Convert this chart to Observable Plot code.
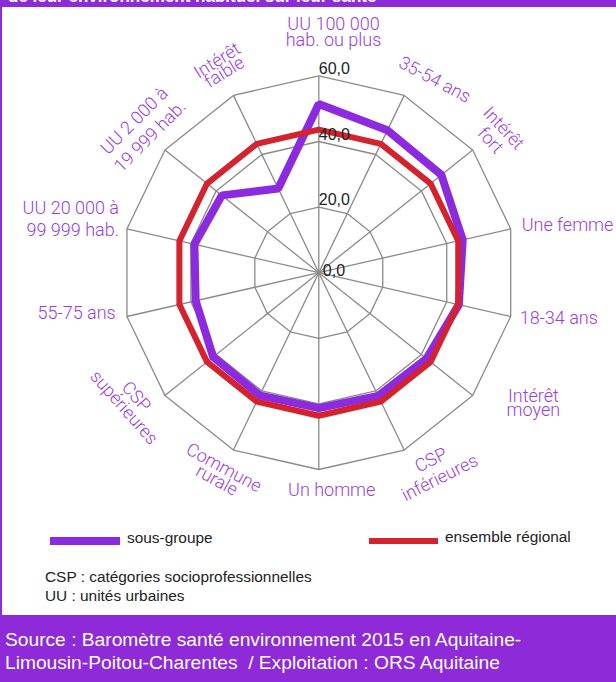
<!DOCTYPE html>
<html><head><meta charset="utf-8">
<script src="https://cdn.jsdelivr.net/npm/d3@7"></script>
<script src="https://cdn.jsdelivr.net/npm/@observablehq/plot@0.6"></script>
<style>
html,body{margin:0;padding:0;background:#fff;}
#page{position:relative;width:616px;height:682px;overflow:hidden;background:#fff;font-family:"Liberation Sans",Arial,sans-serif;}
#topband{position:absolute;left:0;top:0;width:616px;height:7px;background:#8e2ad8;overflow:hidden;z-index:3}
#topband span{position:absolute;left:8px;top:-13px;font:bold 17px/20px "Liberation Sans",Arial,sans-serif;color:#fff;white-space:nowrap}
#leftborder{position:absolute;left:0;top:0;width:2px;height:615px;background:#8e2ad8;z-index:3}
#chart{position:absolute;left:0;top:0}
.lg{position:absolute;font-size:15.4px;color:#222;white-space:nowrap;line-height:18px}
.bar{position:absolute}
#footer{position:absolute;left:0;top:615px;width:616px;height:67px;background:#8e2ad8;color:#fff;font-size:19.2px;line-height:23px;box-sizing:border-box;padding:13px 0 0 5px;white-space:nowrap}
</style>
</head><body>
<div id="page">
  <div id="topband"><span>de leur environnement habituel sur leur santé</span></div>
  <div id="leftborder"></div>
  <div id="chart"></div>
  <div id="legend"></div>
  <div class="lg" style="left:45px;top:568px">CSP : catégories socioprofessionnelles</div>
  <div class="lg" style="left:45px;top:587px">UU : unités urbaines</div>
  <div id="footer">Source : Baromètre santé environnement 2015 en Aquitaine-<br>Limousin-Poitou-Charentes&nbsp; / Exploitation : ORS Aquitaine</div>
</div>
<script>
// ---- data ----
const categories = [
  "UU 100 000\nhab. ou plus", "35-54 ans", "Intérêt\nfort", "Une femme", "18-34 ans",
  "Intérêt\nmoyen", "CSP\ninférieures", "Un homme", "Commune\nrurale", "CSP\nsupérieures",
  "55-75 ans", "UU 20 000 à\n99 999 hab.", "UU 2 000 à\n19 999 hab.", "Intérêt\nfaible"
];
const sousGroupe = [51.4, 48.2, 47.8, 45.0, 43.8, 42.0, 41.7, 41.3, 41.5, 41.2, 38.5, 38.9, 37.8, 28.5];
const ensembleRegional = [43.6, 43.6, 43.6, 43.6, 43.6, 43.6, 43.6, 43.6, 43.6, 43.6, 43.6, 43.6, 43.6, 43.6];
const tickValues = [0, 20, 40, 60];
const tickLabels = ["0,0", "20,0", "40,0", "60,0"];
const seriesNames = ["sous-groupe", "ensemble régional"];

// ---- layout / style ----
const purple = "#8c2ae0", red = "#d4222e", labelColor = "#9a3de0", gridColor = "#8a8a8a";
const W = 616, H = 520, cx = 318.3, cy = 272.2, k = 3.28;
const labelLayout = [
  {dx: 14.7, dy: -43.2, rotate: 0, anchor: "middle", lh: 0.9},
  {dx: 30.5, dy: -15.6, rotate: 28, anchor: "middle", lh: 1},
  {dx: 24.2, dy: -15.6, rotate: 47, anchor: "middle", lh: 1.0},
  {dx: 11, dy: -3.8, rotate: 0, anchor: "start", lh: 1},
  {dx: 9, dy: 2.1, rotate: 0, anchor: "start", lh: 1},
  {dx: 60.7, dy: 9, rotate: 0, anchor: "middle", lh: 0.76},
  {dx: 31, dy: 18.4, rotate: -26.6, anchor: "middle", lh: 1.1},
  {dx: 12.9, dy: 20.9, rotate: 0, anchor: "middle", lh: 1},
  {dx: -13.6, dy: 25.1, rotate: 28.6, anchor: "middle", lh: 0.8},
  {dx: -35.3, dy: 7.1, rotate: 48.5, anchor: "middle", lh: 0.9},
  {dx: -11.2, dy: -2.9, rotate: 0, anchor: "end", lh: 1},
  {dx: -7.9, dy: -10.8, rotate: 0, anchor: "end", lh: 1.22},
  {dx: -23.6, dy: -22.3, rotate: -45, anchor: "middle", lh: 1.23},
  {dx: -11.9, dy: -27.8, rotate: -32, anchor: "middle", lh: 0.76}
];

const n = categories.length;
const rMax = tickValues[tickValues.length - 1];
const ang = i => 2 * Math.PI * i / n;
const px = (r, i) => r * Math.sin(ang(i));
const py = (r, i) => r * Math.cos(ang(i));
const rows = values => values.map((v, i) => ({i, v}));

const gridRows = tickValues.slice(1).flatMap(g => categories.map((c, i) => ({g, i})));
const spokes = categories.map((c, i) => i);
const tickRows = tickValues.map((v, j) => ({v, label: tickLabels[j]}));

const labelMarks = categories.map((c, i) => {
  const L = labelLayout[i];
  return Plot.text([i], {
    x: d => px(rMax, d), y: d => py(rMax, d), text: () => c,
    dx: L.dx, dy: L.dy, rotate: L.rotate, textAnchor: L.anchor,
    lineAnchor: "middle", lineHeight: L.lh, fill: labelColor,
    fontSize: 18, fontWeight: 300, fontFamily: "Roboto, 'Liberation Sans', sans-serif"
  });
});

const chart = Plot.plot({
  width: W, height: H, margin: 0,
  style: {background: "transparent", overflow: "visible"},
  x: {domain: [-cx / k, (W - cx) / k], range: [0, W], axis: null},
  y: {domain: [-(H - cy) / k, cy / k], range: [H, 0], axis: null},
  marks: [
    Plot.link(spokes, {x1: 0, y1: 0, x2: d => px(rMax, d), y2: d => py(rMax, d), stroke: gridColor, strokeWidth: 1.3}),
    Plot.line(gridRows, {x: d => px(d.g, d.i), y: d => py(d.g, d.i), z: "g", curve: "linear-closed", stroke: gridColor, strokeWidth: 1.3}),
    Plot.line(rows(sousGroupe), {x: d => px(d.v, d.i), y: d => py(d.v, d.i), curve: "linear-closed", stroke: purple, strokeWidth: 8, strokeLinejoin: "miter"}),
    Plot.line(rows(ensembleRegional), {x: d => px(d.v, d.i), y: d => py(d.v, d.i), curve: "linear-closed", stroke: red, strokeWidth: 6, strokeLinejoin: "miter"}),
    Plot.text(tickRows.filter(d => d.v > 0), {x: 0, y: "v", text: "label", dx: 0, dy: -7, textAnchor: "start", fill: "#222", fontSize: 16, fontFamily: "'Liberation Sans', Arial, sans-serif"}),
    Plot.text(tickRows.filter(d => d.v === 0), {x: 0, y: "v", text: "label", dx: 4, dy: -2, textAnchor: "start", fill: "#222", fontSize: 16, fontFamily: "'Liberation Sans', Arial, sans-serif"}),
    ...labelMarks
  ]
});
document.getElementById("chart").appendChild(chart);

// legend (below the SVG)
const legend = document.getElementById("legend");
const legendItems = [
  {name: seriesNames[0], color: purple, left: 50, width: 70, thick: 8, textLeft: 127, top: 529},
  {name: seriesNames[1], color: red, left: 369, width: 69, thick: 5.5, textLeft: 445, top: 528}
];
legendItems.forEach(it => {
  const b = document.createElement("div");
  b.className = "bar";
  b.style.cssText = `left:${it.left}px;top:${541 - it.thick / 2}px;width:${it.width}px;height:${it.thick}px;background:${it.color}`;
  legend.appendChild(b);
  const t = document.createElement("div");
  t.className = "lg";
  t.style.cssText = `left:${it.textLeft}px;top:${it.top}px`;
  t.textContent = it.name;
  legend.appendChild(t);
});
</script>
</body></html>
